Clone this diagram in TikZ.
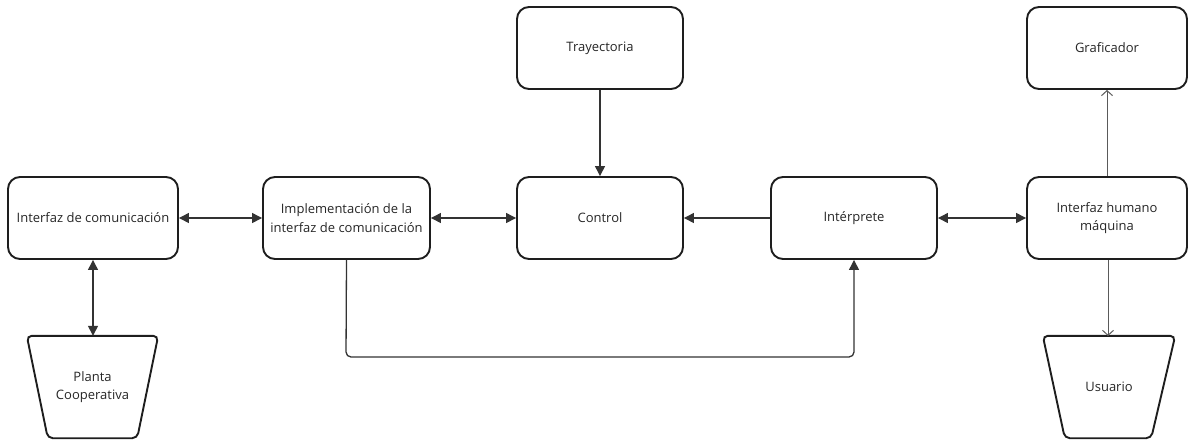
\documentclass[tikz,border=0pt]{standalone}
\usepackage{fontspec}
\setmainfont{Open Sans}
\usetikzlibrary{arrows.meta,calc}
\definecolor{edge}{HTML}{1E1E1E}
\definecolor{wire}{HTML}{333333}
\definecolor{softwire}{HTML}{5A5A5A}
\begin{document}
\begin{tikzpicture}[x=1pt,y=-1pt,
  font=\fontsize{13}{18.5}\selectfont,
  block/.style={draw=edge,line width=1.9pt,rounded corners=12pt,align=center,
    minimum height=82pt,inner sep=2pt,text=black!85},
  shapebox/.style={inner sep=0pt,minimum width=131pt,minimum height=102pt,align=center,text=black!85},
  trap/.style={draw=edge,line width=1.9pt,rounded corners=5pt},
  link/.style={draw=wire,line width=1.3pt,-{Triangle[length=10pt,width=10pt]}},
  duplex/.style={draw=wire,line width=1.3pt,{Triangle[length=10pt,width=10pt]}-{Triangle[length=10pt,width=10pt]}},
  softlink/.style={draw=softwire,line width=1pt,-{Straight Barb[length=5pt,width=11pt]}}]
\useasboundingbox (0,0) rectangle (1188,440);

% rounded blocks
\node[block,minimum width=170pt] (ic)     at (93,218)   {Interfaz de comunicación};
\node[block,minimum width=167pt] (impl)   at (346.5,218) {Implementación de la\\interfaz de comunicación};
\node[block,minimum width=166pt] (ctrl)   at (600,218)  {Control};
\node[block,minimum width=166pt] (tray)   at (600,48)   {Trayectoria};
\node[block,minimum width=166pt] (interp) at (854,218)  {Intérprete};
\node[block,minimum width=160pt] (ihm)    at (1107,218) {Interfaz humano\\máquina};
\node[block,minimum width=160pt] (graf)   at (1107,48)  {Graficador};

% trapezoid blocks
\node[shapebox] (planta)  at (92.5,387) {Planta\\Cooperativa};
\node[shapebox,minimum width=132pt] (usuario) at (1109,387) {Usuario};
\draw[trap] (planta.north west) -- (planta.north east)
  -- ($(planta.south east)+(-21,0)$) -- ($(planta.south west)+(21,0)$) -- cycle;
\draw[trap] (usuario.north west) -- (usuario.north east)
  -- ($(usuario.south east)+(-24,0)$) -- ($(usuario.south west)+(22,0)$) -- cycle;

% connectors
\draw[duplex] (ic.east) -- (impl.west);
\draw[duplex] (impl.east) -- (ctrl.west);
\draw[link] (interp.west) -- (ctrl.east);
\draw[duplex] (interp.east) -- (ihm.west);
\draw[link] (tray.south) -- (ctrl.north);
\draw[duplex] (ic.south) -- (ic.south |- planta.north);
\draw[softlink] (graf.south |- ihm.north) -- (graf.south);
\draw[softlink] (ihm.south -| 1108,0) -- (1108,336);
\draw[link,rounded corners=5pt] (impl.south) -- (346,357) -- (854,357) -- (interp.south);
\end{tikzpicture}
\end{document}
